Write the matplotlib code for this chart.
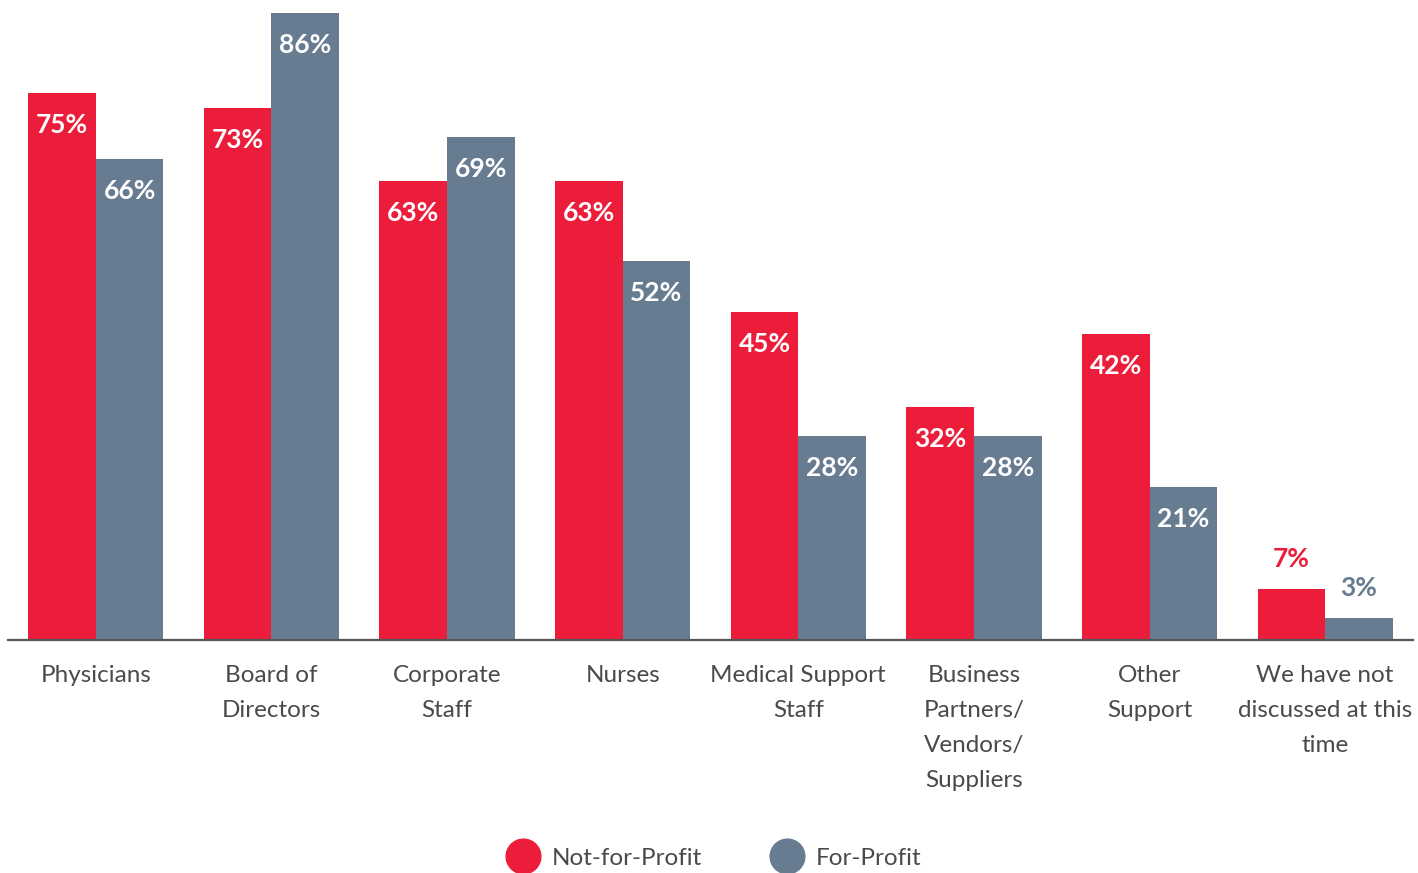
import matplotlib
matplotlib.use("Agg")
import matplotlib.pyplot as plt
import numpy as np
from matplotlib.lines import Line2D

categories = ["Physicians", "Board of\nDirectors", "Corporate\nStaff", "Nurses",
              "Medical Support\nStaff", "Business\nPartners/\nVendors/\nSuppliers",
              "Other\nSupport", "We have not\ndiscussed at this\ntime"]
not_for_profit = [75, 73, 63, 63, 45, 32, 42, 7]
for_profit = [66, 86, 69, 52, 28, 28, 21, 3]

RED = "#EC1D3A"
SLATE = "#687C91"
TEXT = "#4A4A4A"

plt.rcParams["font.family"] = ["Lato", "DejaVu Sans"]

fig = plt.figure(figsize=(14.18, 8.73), dpi=100)
ax = fig.add_axes([8 / 1418, 1 - 640 / 873, 1405 / 1418, 627 / 873])

x = np.arange(len(categories))
w = 0.385
b1 = ax.bar(x - w / 2, not_for_profit, w, color=RED)
b2 = ax.bar(x + w / 2, for_profit, w, color=SLATE)

px = 86 / 627  # data units per pixel
for bars, vals, col in [(b1, not_for_profit, RED), (b2, for_profit, SLATE)]:
    for r, v in zip(bars, vals):
        cx = r.get_x() + r.get_width() / 2
        if v >= 15:
            ax.text(cx, v - 32 * px, f"{v}%", ha="center", va="center",
                    color="white", fontsize=19, fontweight="bold")
        else:
            ax.text(cx, v + 30 * px, f"{v}%", ha="center", va="center",
                    color=col, fontsize=19, fontweight="bold")

ax.set_xlim(-0.5, len(categories) - 0.5)
ax.set_ylim(0, 86)
ax.set_yticks([])
ax.set_xticks(x, categories)
ax.tick_params(axis="x", length=0, pad=18, labelsize=17.5, labelcolor=TEXT)
for lbl in ax.get_xticklabels():
    lbl.set_linespacing(1.82)
for s in ["top", "right", "left"]:
    ax.spines[s].set_visible(False)
ax.spines["bottom"].set_color("#555555")
ax.spines["bottom"].set_linewidth(1.6)

handles = [Line2D([], [], marker="o", ls="", markersize=25, color=RED),
           Line2D([], [], marker="o", ls="", markersize=25, color=SLATE)]
fig.legend(handles, ["Not-for-Profit", "For-Profit"], ncol=2, frameon=False,
           loc="center", bbox_to_anchor=(710 / 1418, 1 - 858 / 873),
           fontsize=17.5, labelcolor=TEXT, handletextpad=0.2, columnspacing=2.5)

fig.savefig("out.png", dpi=100)
